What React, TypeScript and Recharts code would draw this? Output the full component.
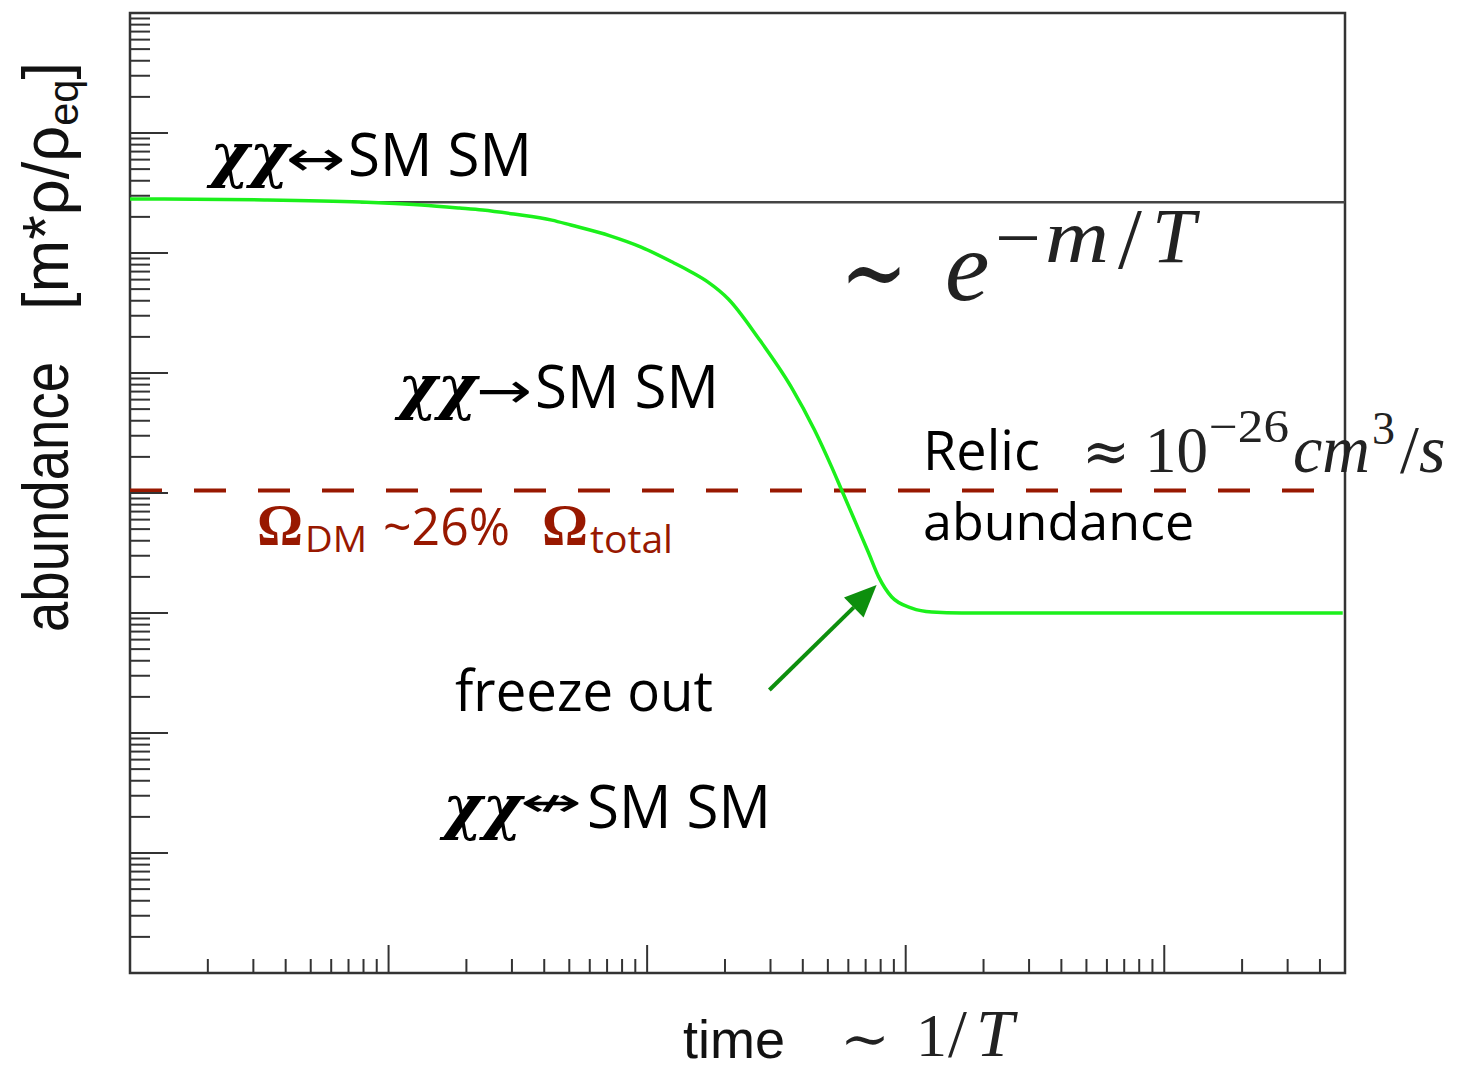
import { LineChart, Line, XAxis, YAxis, ReferenceLine, ReferenceArea } from "recharts";

// freeze-out curve
const TIME = [1, 3.31, 7.79, 13.4, 18.8, 23.1, 30.5, 42.8, 50.7, 71.9, 94.8, 127, 148, 172, 206, 269, 361, 444, 517, 565, 634, 719, 786, 883, 1055, 1262, 1648, 49000];
const ABUNDANCE = [2.82e-2, 2.77e-2, 2.66e-2, 2.51e-2, 2.37e-2, 2.28e-2, 2.11e-2, 1.88e-2, 1.71e-2, 1.39e-2, 1.12e-2, 8.26e-3, 6.95e-3, 5.72e-3, 4.14e-3, 1.96e-3, 7.64e-4, 3.35e-4, 1.65e-4, 1.06e-4, 5.96e-5, 3.16e-5, 2.0e-5, 1.36e-5, 1.1e-5, 1.02e-5, 1.0e-5, 1.0e-5];

const X_DOMAIN = [1, 50000];
const Y_DOMAIN = [1e-8, 1];
const X_DECADES = [1, 10, 100, 1000, 10000];
const Y_DECADES = [1e-8, 1e-7, 1e-6, 1e-5, 1e-4, 1e-3, 1e-2, 1e-1];
const STEPS = [1, 2, 3, 4, 5, 6, 7, 8, 9];

const EQUILIBRIUM = 0.0265;
const EQ_START = 7.8;
const RELIC = 1.05e-4;
const ARROW_FROM = { t: 297, y: 2.28e-6 };
const ARROW_TO = { t: 772, y: 1.71e-5 };

const data = TIME.map((t, i) => ({ t, y: ABUNDANCE[i] }));
const xTicks = X_DECADES.flatMap((d) => STEPS.map((s) => d * s)).filter((v) => v <= X_DOMAIN[1]);
const yTicks = Y_DECADES.flatMap((d) => STEPS.map((s) => d * s)).filter((v) => v <= Y_DOMAIN[1]);

const isMajor = (v: number) => Math.abs(Math.log10(v) - Math.round(Math.log10(v))) < 1e-6;

const INK = "#333";
const MATH = "#222";
const RED = "#981800";
const SANS = "'Open Sans', sans-serif";
const SERIF = "'Liberation Serif', serif";
const DJSERIF = "'DejaVu Serif', serif";
const ARROWS = "'DejaVu Sans', sans-serif";
const HELV = "'Liberation Sans', sans-serif";
const FIT = "spacingAndGlyphs";

function XTick(props: any) {
  const { x, y, payload } = props;
  const len = isMajor(payload.value) ? 28 : 14;
  return <line x1={x} y1={y} x2={x} y2={y - len} stroke={INK} strokeWidth={2} />;
}

function YTick(props: any) {
  const { x, y, payload } = props;
  const len = isMajor(payload.value) ? 38 : 20;
  return <line x1={x} y1={y} x2={x + len} y2={y} stroke={INK} strokeWidth={2} />;
}

function ArrowShape(p: any) {
  const { x1, y1, x2, y2 } = p;
  const a = Math.atan2(y2 - y1, x2 - x1);
  const L = 32;
  const w = 14;
  const bx = x2 - L * Math.cos(a);
  const by = y2 - L * Math.sin(a);
  const nx = -Math.sin(a) * w;
  const ny = Math.cos(a) * w;
  return (
    <g>
      <line x1={x1} y1={y1} x2={bx} y2={by} stroke="#0d8f0d" strokeWidth={4} />
      <polygon points={`${x2},${y2} ${bx + nx},${by + ny} ${bx - nx},${by - ny}`} fill="#0d8f0d" />
    </g>
  );
}

// χχ <arrow> SM SM
function Process({ x, y, arrow, arrowX, arrowW, arrowSize, arrowLift, smX }: any) {
  return (
    <g>
      <text x={x} y={y} fontFamily={DJSERIF} fontWeight="bold" fontStyle="italic" fontSize={60} fill="#000">χχ</text>
      <text x={arrowX} y={y - arrowLift} fontFamily={ARROWS} fontSize={arrowSize} textLength={arrowW} lengthAdjust={FIT} fill="#000">{arrow}</text>
      <text x={smX} y={y} fontFamily={SANS} fontSize={60} textLength={184} lengthAdjust={FIT} fill="#000">SM SM</text>
    </g>
  );
}

export default function App() {
  return (
    <div style={{ position: "absolute", left: 0, top: 0, width: 1467, height: 1074, background: "#fff" }}>
      <LineChart width={1467} height={1074} data={data} margin={{ top: 13, right: 122, bottom: 100, left: 129 }}>
        <XAxis
          dataKey="t"
          type="number"
          scale="log"
          domain={X_DOMAIN}
          allowDataOverflow
          ticks={xTicks}
          interval={0}
          height={1}
          tickSize={0}
          tickMargin={0}
          tickLine={false}
          axisLine={false}
          tick={<XTick />}
        />
        <YAxis
          type="number"
          scale="log"
          domain={Y_DOMAIN}
          allowDataOverflow
          ticks={yTicks}
          interval={0}
          width={1}
          tickSize={0}
          tickMargin={0}
          tickLine={false}
          axisLine={false}
          tick={<YTick />}
        />
        <ReferenceArea x1={X_DOMAIN[0]} x2={X_DOMAIN[1]} y1={Y_DOMAIN[0]} y2={Y_DOMAIN[1]} fill="none" fillOpacity={0} stroke={INK} strokeWidth={2.5} />
        <ReferenceLine segment={[{ x: EQ_START, y: EQUILIBRIUM }, { x: X_DOMAIN[1], y: EQUILIBRIUM }]} stroke="#444" strokeWidth={2.5} />
        <ReferenceLine y={RELIC} stroke={RED} strokeWidth={4} strokeDasharray="32 32" />
        <Line dataKey="y" type="monotone" stroke="#1bf01b" strokeWidth={3.5} dot={false} isAnimationActive={false} />
        <ReferenceLine segment={[{ x: ARROW_FROM.t, y: ARROW_FROM.y }, { x: ARROW_TO.t, y: ARROW_TO.y }]} shape={ArrowShape} />
      </LineChart>

      <svg width={1467} height={1074} style={{ position: "absolute", left: 0, top: 0, pointerEvents: "none" }}>
        {/* process labels */}
        <Process x={210} y={176} arrow="↔" arrowX={286} arrowW={60} arrowSize={50} arrowLift={0} smX={348} />
        <Process x={398} y={408} arrow="→" arrowX={476} arrowW={56} arrowSize={50} arrowLift={0} smX={535} />
        <Process x={443} y={828} arrow="↮" arrowX={520} arrowW={62} arrowSize={40} arrowLift={12} smX={587} />
        <text x={455} y={711} fontSize={56} fontFamily={SANS} textLength={258} lengthAdjust={FIT} fill="#000">freeze out</text>

        {/* exponential tail */}
        <text x={840} y={308} fontSize={105} fontFamily={DJSERIF} textLength={68} lengthAdjust={FIT} fill={MATH}>∼</text>
        <text x={945} y={300} fontSize={100} fontFamily={SERIF} fontStyle="italic" fill={MATH}>e</text>
        <text x={995} y={262} fontSize={72} fontFamily={SERIF} textLength={46} lengthAdjust={FIT} fill={MATH}>−</text>
        <text x={1045} y={262} fontSize={76} fontFamily={SERIF} fontStyle="italic" textLength={64} lengthAdjust={FIT} fill={MATH}>m</text>
        <text x={1118} y={268} fontSize={86} fontFamily={SERIF} fill={MATH}>/</text>
        <text x={1152} y={262} fontSize={78} fontFamily={SERIF} fontStyle="italic" fill={MATH}>T</text>

        {/* relic abundance */}
        <text x={923} y={470} fontSize={54} fontFamily={SANS} fill="#000">Relic</text>
        <text x={923} y={540} fontSize={52} fontFamily={SANS} fill="#000">abundance</text>
        <text x={1082} y={472} fontSize={60} fontFamily={DJSERIF} textLength={48} lengthAdjust={FIT} fill={MATH}>≈</text>
        <text x={1145} y={472} fontSize={65} fontFamily={SERIF} textLength={63} lengthAdjust={FIT} fill={MATH}>10</text>
        <text x={1209} y={442} fontSize={46} fontFamily={SERIF} textLength={80} lengthAdjust={FIT} fill={MATH}>−26</text>
        <text x={1293} y={472} fontSize={68} fontFamily={SERIF} fontStyle="italic" textLength={77} lengthAdjust={FIT} fill={MATH}>cm</text>
        <text x={1372} y={444} fontSize={46} fontFamily={SERIF} fill={MATH}>3</text>
        <text x={1400} y={472} fontSize={68} fontFamily={SERIF} fill={MATH}>
          <tspan>/</tspan>
          <tspan fontStyle="italic">s</tspan>
        </text>

        {/* dark matter fraction */}
        <text x={257} y={545} fill={RED} fontFamily={SERIF} fontWeight="bold" fontSize={60} textLength={46} lengthAdjust={FIT}>Ω</text>
        <text x={305} y={552} fill={RED} fontFamily={SANS} fontSize={37} textLength={62} lengthAdjust={FIT}>DM</text>
        <text x={383} y={545} fill={RED} fontFamily={SANS} fontSize={52} textLength={127} lengthAdjust={FIT}>~26%</text>
        <text x={542} y={545} fill={RED} fontFamily={SERIF} fontWeight="bold" fontSize={60} textLength={46} lengthAdjust={FIT}>Ω</text>
        <text x={590} y={553} fill={RED} fontFamily={SANS} fontSize={38} textLength={83} lengthAdjust={FIT}>total</text>

        {/* axis titles */}
        <text x={683} y={1058} fontSize={54} fontFamily={HELV} textLength={102} lengthAdjust={FIT} fill="#111">time</text>
        <text x={840} y={1058} fontSize={56} fontFamily={DJSERIF} textLength={50} lengthAdjust={FIT} fill={MATH}>∼</text>
        <text x={916} y={1056} fontSize={62} fontFamily={SERIF} fill={MATH}>1</text>
        <text x={948} y={1056} fontSize={68} fontFamily={SERIF} fill={MATH}>/</text>
        <text x={976} y={1056} fontSize={68} fontFamily={SERIF} fontStyle="italic" fill={MATH}>T</text>

        <text x={68} y={632} transform="rotate(-90 68 632)" fontSize={64} fontFamily={HELV} textLength={270} lengthAdjust={FIT} fill="#111">abundance</text>
        <text x={68} y={310} transform="rotate(-90 68 310)" fontSize={64} fontFamily={HELV} textLength={248} lengthAdjust={FIT} fill="#111">
          <tspan>[m*ρ/ρ</tspan>
          <tspan fontSize={42} dy={10}>eq</tspan>
          <tspan dy={-10}>]</tspan>
        </text>
      </svg>
    </div>
  );
}
